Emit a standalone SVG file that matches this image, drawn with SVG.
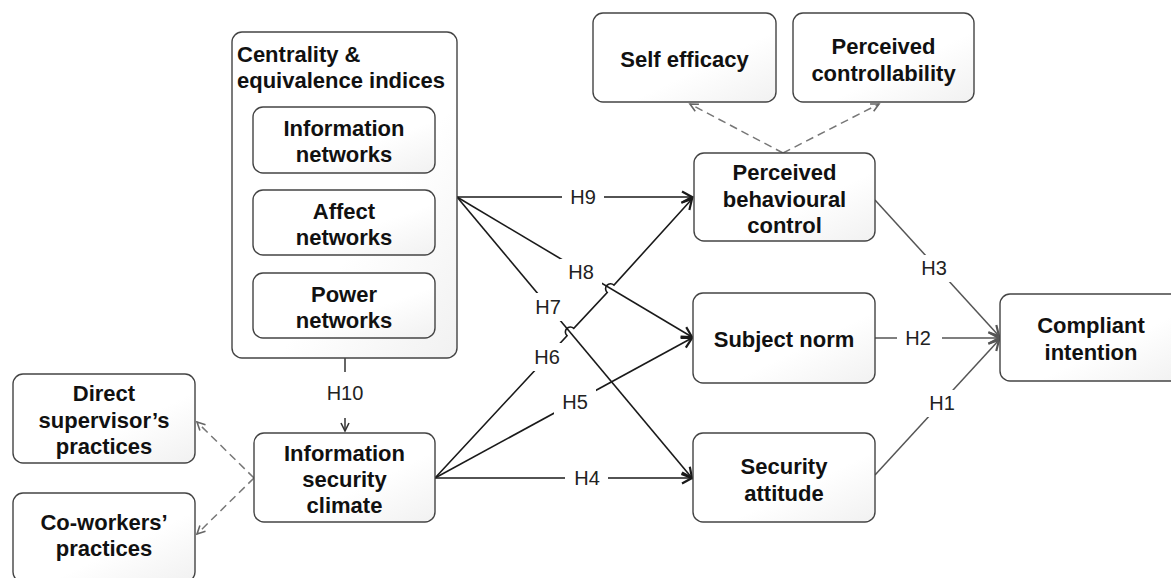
<svg xmlns="http://www.w3.org/2000/svg" width="1171" height="578" viewBox="0 0 1171 578">
  <defs>
    <linearGradient id="boxFill" x1="0" y1="0" x2="1" y2="1">
      <stop offset="0" stop-color="#ffffff"/>
      <stop offset="0.6" stop-color="#ffffff"/>
      <stop offset="1" stop-color="#f1f1f1"/>
    </linearGradient>
    <marker id="arrDark" markerUnits="userSpaceOnUse" markerWidth="14" markerHeight="14" refX="12" refY="7" orient="auto">
      <path d="M2,1.5 L12,7 L2,12.5" fill="none" stroke="#1a1a1a" stroke-width="2.2"/>
    </marker>
    <marker id="arrGray" markerUnits="userSpaceOnUse" markerWidth="14" markerHeight="14" refX="12" refY="7" orient="auto">
      <path d="M2,1.5 L12,7 L2,12.5" fill="none" stroke="#555" stroke-width="2.2"/>
    </marker>
    <marker id="arrSmall" markerUnits="userSpaceOnUse" markerWidth="12" markerHeight="12" refX="10" refY="6" orient="auto">
      <path d="M2,2 L10,6 L2,10" fill="none" stroke="#666" stroke-width="1.6"/>
    </marker>
    <marker id="arrSmallDark" markerUnits="userSpaceOnUse" markerWidth="12" markerHeight="12" refX="10" refY="6" orient="auto">
      <path d="M2,2 L10,6 L2,10" fill="none" stroke="#333" stroke-width="1.6"/>
    </marker>
  </defs>
  <style>
    .box { fill: url(#boxFill); stroke: #444; stroke-width: 1.4; }
    .t { font-family: "Liberation Sans", Arial, Helvetica, sans-serif; font-size: 22px; font-weight: bold; fill: #111; text-anchor: middle; }
    .tl { text-anchor: start; }
    .lbl { font-family: "Liberation Sans", Arial, Helvetica, sans-serif; font-size: 20px; fill: #222; text-anchor: middle; }
    .lblbg { fill: #ffffff; stroke: none; }
    .e { fill: none; stroke: #1a1a1a; stroke-width: 1.6; marker-end: url(#arrDark); }
    .eg { fill: none; stroke: #555; stroke-width: 1.5; marker-end: url(#arrGray); }
    .ed { fill: none; stroke: #777; stroke-width: 1.5; stroke-dasharray: 8 5; marker-end: url(#arrSmall); }
  </style>
  <rect width="1171" height="578" fill="#ffffff"/>

  <g id="connectors">
    <path class="e" d="M457 197 L692 197"/>
    <path class="e" d="M457 197 L692 337"/>
    <path class="e" d="M457 197 L692 478"/>
    <path class="e" d="M435 478 L567 335.7 A5 5 0 0 1 573.8 328.3 L607.2 292.5 A5 5 0 0 1 614 285.1 L692 199"/>
    <path class="e" d="M435 478 L692 338"/>
    <path class="e" d="M435 478 L692 478"/>
    <path class="eg" d="M875 200 L999 336"/>
    <path class="eg" d="M875 338 L999 338"/>
    <path class="eg" d="M875 475 L999 340"/>
    <path d="M345 358 V372" fill="none" stroke="#333" stroke-width="1.5"/>
    <path d="M345 418 V431" fill="none" stroke="#333" stroke-width="1.5" marker-end="url(#arrSmallDark)"/>
    <path class="ed" d="M254 478 L197 422"/>
    <path class="ed" d="M254 478 L197 534"/>
    <path class="ed" d="M783 153 L690 104"/>
    <path class="ed" d="M783 153 L879 104"/>

    <g id="labels">
      <rect class="lblbg" x="562" y="184" width="42" height="27"/>
      <text class="lbl" x="583" y="204">H9</text>
      <rect class="lblbg" x="560" y="259" width="42" height="27"/>
      <text class="lbl" x="581" y="279">H8</text>
      <rect class="lblbg" x="530" y="293" width="36" height="28"/>
      <text class="lbl" x="548" y="314">H7</text>
      <rect class="lblbg" x="528" y="343" width="38" height="28"/>
      <text class="lbl" x="547" y="364">H6</text>
      <rect class="lblbg" x="554" y="389" width="42" height="27"/>
      <text class="lbl" x="575" y="409">H5</text>
      <rect class="lblbg" x="565" y="465" width="43" height="27"/>
      <text class="lbl" x="587" y="485">H4</text>
      <rect class="lblbg" x="913" y="255" width="42" height="27"/>
      <text class="lbl" x="934" y="275">H3</text>
      <rect class="lblbg" x="897" y="325" width="45" height="27"/>
      <text class="lbl" x="918" y="345">H2</text>
      <rect class="lblbg" x="921" y="390" width="42" height="27"/>
      <text class="lbl" x="942" y="410">H1</text>
      <text class="lbl" x="345" y="400">H10</text>
    </g>
  </g>

  <g id="centrality">
    <rect class="box" x="232" y="32" width="225" height="326" rx="10"/>
    <text class="t tl" x="237" y="62">Centrality &amp;</text>
    <text class="t tl" x="237" y="88">equivalence indices</text>
  </g>
  <g id="information-networks">
    <rect class="box" x="253" y="107" width="182" height="66" rx="10"/>
    <text class="t" x="344" y="136">Information</text>
    <text class="t" x="344" y="162">networks</text>
  </g>
  <g id="affect-networks">
    <rect class="box" x="253" y="190" width="182" height="65" rx="10"/>
    <text class="t" x="344" y="218.5">Affect</text>
    <text class="t" x="344" y="244.5">networks</text>
  </g>
  <g id="power-networks">
    <rect class="box" x="253" y="273" width="182" height="65" rx="10"/>
    <text class="t" x="344" y="301.5">Power</text>
    <text class="t" x="344" y="327.5">networks</text>
  </g>

  <g id="self-efficacy">
    <rect class="box" x="593" y="13" width="183" height="89" rx="10"/>
    <text class="t" x="684.5" y="66.5">Self efficacy</text>
  </g>
  <g id="perceived-controllability">
    <rect class="box" x="793" y="13" width="181" height="89" rx="10"/>
    <text class="t" x="883.5" y="54">Perceived</text>
    <text class="t" x="883.5" y="80.5">controllability</text>
  </g>
  <g id="perceived-behavioural-control">
    <rect class="box" x="694" y="153" width="181" height="88" rx="10"/>
    <text class="t" x="784.5" y="180">Perceived</text>
    <text class="t" x="784.5" y="206.5">behavioural</text>
    <text class="t" x="784.5" y="233">control</text>
  </g>
  <g id="subject-norm">
    <rect class="box" x="693" y="293" width="182" height="90" rx="10"/>
    <text class="t" x="784" y="347">Subject norm</text>
  </g>
  <g id="security-attitude">
    <rect class="box" x="693" y="433" width="182" height="89" rx="10"/>
    <text class="t" x="784" y="474">Security</text>
    <text class="t" x="784" y="500.5">attitude</text>
  </g>
  <g id="compliant-intention">
    <rect class="box" x="1000" y="294" width="182" height="87" rx="10"/>
    <text class="t" x="1091" y="333">Compliant</text>
    <text class="t" x="1091" y="360">intention</text>
  </g>
  <g id="information-security-climate">
    <rect class="box" x="254" y="433" width="181" height="89" rx="10"/>
    <text class="t" x="344.5" y="460.5">Information</text>
    <text class="t" x="344.5" y="486.5">security</text>
    <text class="t" x="344.5" y="512.5">climate</text>
  </g>
  <g id="direct-supervisors-practices">
    <rect class="box" x="13" y="374" width="182" height="89" rx="10"/>
    <text class="t" x="104" y="401">Direct</text>
    <text class="t" x="104" y="427.5">supervisor’s</text>
    <text class="t" x="104" y="454">practices</text>
  </g>
  <g id="co-workers-practices">
    <rect class="box" x="13" y="493" width="182" height="89" rx="10"/>
    <text class="t" x="104" y="530">Co-workers’</text>
    <text class="t" x="104" y="556">practices</text>
  </g>
</svg>
